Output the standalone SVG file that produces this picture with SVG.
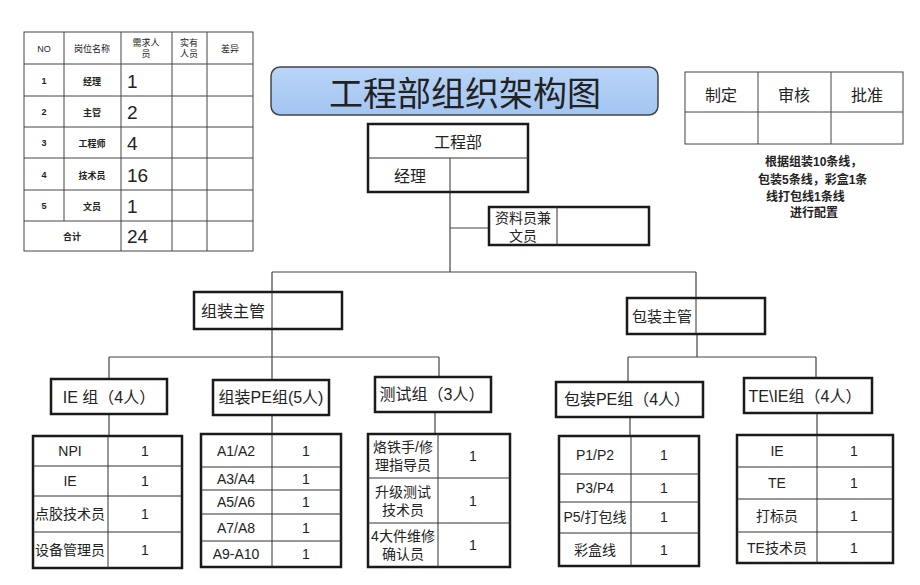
<svg xmlns="http://www.w3.org/2000/svg" width="920" height="585" viewBox="0 0 920 585">
<defs>
<style>
text{font-family:"Liberation Sans","Noto Sans CJK SC",sans-serif;fill:#222;}
.box{fill:#fff;stroke:#1a1a1a;stroke-width:2.5;}
.ln{fill:none;stroke:#333;stroke-width:1;}
.conn{fill:none;stroke:#444;stroke-width:1.2;}
.tl{fill:none;stroke:#444;stroke-width:1;}
.m{text-anchor:middle;}
.hd{font-size:9px;text-anchor:middle;}
.nm{font-size:9px;text-anchor:middle;font-weight:bold;}
.big{font-size:19px;}
.t14{font-size:14px;}
.t16{font-size:16px;}
.note{font-size:12px;font-weight:bold;}
</style>
<linearGradient id="tg" x1="0" y1="0" x2="0" y2="1">
<stop offset="0" stop-color="#b9d4f7"/>
<stop offset="1" stop-color="#a3c5f1"/>
</linearGradient>
</defs>
<rect width="920" height="585" fill="#fff"/>

<g id="summary-table">
<rect x="24" y="32" width="229" height="219" class="tl"/>
<path class="tl" d="M24 64H253M24 96H253M24 127H253M24 158H253M24 190H253M24 221H253M64 32V221M121 32V251M172 32V251M207 32V251"/>
<text x="44" y="52" class="hd">NO</text>
<text x="92" y="52" class="hd">岗位名称</text>
<text x="146" y="46" class="hd">需求人</text>
<text x="146" y="57" class="hd">员</text>
<text x="189" y="46" class="hd">实有</text>
<text x="189" y="57" class="hd">人员</text>
<text x="230" y="52" class="hd">差异</text>
<text x="44" y="84" class="nm">1</text>
<text x="92" y="85" class="nm">经理</text>
<text x="127" y="88" class="big">1</text>
<text x="44" y="115" class="nm">2</text>
<text x="92" y="116" class="nm">主管</text>
<text x="127" y="119" class="big">2</text>
<text x="44" y="146" class="nm">3</text>
<text x="92" y="147" class="nm">工程师</text>
<text x="127" y="150" class="big">4</text>
<text x="44" y="178" class="nm">4</text>
<text x="92" y="179" class="nm">技术员</text>
<text x="127" y="182" class="big">16</text>
<text x="44" y="209" class="nm">5</text>
<text x="92" y="210" class="nm">文员</text>
<text x="127" y="213" class="big">1</text>
<text x="72" y="240" class="nm">合计</text>
<text x="127" y="243" class="big">24</text>
</g>

<g id="title">
<rect x="271" y="67" width="387" height="48" rx="9" fill="url(#tg)" stroke="#444" stroke-width="1.5"/>
<text x="465" y="106" class="m" font-size="34">工程部组织架构图</text>
</g>

<g id="approval-table">
<rect x="685" y="72" width="218" height="72" class="tl"/>
<path class="tl" d="M685 112H903M758 72V144M831 72V144"/>
<text x="721" y="101" class="m t16" fill="#444">制定</text>
<text x="794" y="101" class="m t16" fill="#444">审核</text>
<text x="867" y="101" class="m t16" fill="#444">批准</text>
</g>

<g id="note">
<text x="765" y="166" class="note">根据组装10条线，</text>
<text x="758" y="184" class="note">包装5条线，彩盒1条</text>
<text x="766" y="201" class="note">线打包线1条线</text>
<text x="790" y="217" class="note">进行配置</text>
</g>

<g id="connectors">
<path class="conn" d="M450 192V272M450 228H489M272 272H696M272 272V292M272 329V357M109 357H439M109 357V379M272 357V380M439 357V377M109 414V436M272 415V434M435 412V434M696 272V298M697 334V357M628 357H816M628 357V382M816 357V378M630 417V436M817 413V435"/>
</g>

<g id="dept">
<rect x="368" y="124" width="160" height="68" class="box"/>
<path class="ln" d="M368 158H528M450 158V192"/>
<text x="458" y="148" class="m t16">工程部</text>
<text x="410" y="182" class="m t16">经理</text>
</g>

<g id="clerk">
<rect x="489" y="207" width="160" height="38" class="box"/>
<path class="ln" d="M557 207V245"/>
<text x="523" y="223" class="m t14">资料员兼</text>
<text x="523" y="241" class="m t14">文员</text>
</g>

<g id="assembly-sup">
<rect x="194" y="292" width="148" height="37" class="box"/>
<path class="ln" d="M272 292V329"/>
<text x="233" y="317" class="m t16">组装主管</text>
</g>

<g id="pack-sup">
<rect x="627" y="298" width="138" height="36" class="box"/>
<path class="ln" d="M696 298V334"/>
<text x="662" y="322" class="m" font-size="15">包装主管</text>
</g>

<g id="ie-group">
<rect x="51" y="379" width="116" height="35" class="box"/>
<text x="109" y="403" class="m t16">IE 组（4人）</text>
</g>
<g id="ie-table">
<rect x="33" y="436" width="149" height="132" class="box"/>
<path class="ln" d="M108 436V568M33 466H182M33 496H182M33 532H182"/>
<text x="70" y="456" class="m t14">NPI</text><text x="145" y="456" class="m t14">1</text>
<text x="70" y="486" class="m t14">IE</text><text x="145" y="486" class="m t14">1</text>
<text x="70" y="519" class="m t14">点胶技术员</text><text x="145" y="519" class="m t14">1</text>
<text x="70" y="555" class="m t14">设备管理员</text><text x="145" y="555" class="m t14">1</text>
</g>

<g id="asm-pe-group">
<rect x="213" y="380" width="116" height="35" class="box"/>
<text x="271" y="403" class="m t16">组装PE组(5人)</text>
</g>
<g id="asm-pe-table">
<rect x="201" y="434" width="140" height="133" class="box"/>
<path class="ln" d="M272 434V567M201 467H341M201 490H341M201 514H341M201 541H341"/>
<text x="236" y="456" class="m t14">A1/A2</text><text x="306" y="456" class="m t14">1</text>
<text x="236" y="484" class="m t14">A3/A4</text><text x="306" y="484" class="m t14">1</text>
<text x="236" y="507" class="m t14">A5/A6</text><text x="306" y="507" class="m t14">1</text>
<text x="236" y="533" class="m t14">A7/A8</text><text x="306" y="533" class="m t14">1</text>
<text x="236" y="559" class="m t14">A9-A10</text><text x="306" y="559" class="m t14">1</text>
</g>

<g id="test-group">
<rect x="375" y="377" width="116" height="35" class="box"/>
<text x="432" y="400" class="m t16">测试组（3人）</text>
</g>
<g id="test-table">
<rect x="368" y="434" width="142" height="133" class="box"/>
<path class="ln" d="M438 434V567M368 478H510M368 523H510"/>
<text x="403" y="452" class="m t14">烙铁手/修</text>
<text x="403" y="470" class="m t14">理指导员</text>
<text x="473" y="461" class="m t14">1</text>
<text x="403" y="497" class="m t14">升级测试</text>
<text x="403" y="515" class="m t14">技术员</text>
<text x="473" y="506" class="m t14">1</text>
<text x="403" y="541" class="m t14">4大件维修</text>
<text x="403" y="559" class="m t14">确认员</text>
<text x="473" y="550" class="m t14">1</text>
</g>

<g id="pack-pe-group">
<rect x="556" y="382" width="147" height="35" class="box"/>
<text x="627" y="405" class="m t16">包装PE组（4人）</text>
</g>
<g id="pack-pe-table">
<rect x="559" y="436" width="140" height="130" class="box"/>
<path class="ln" d="M631 436V566M559 474H699M559 502H699M559 533H699"/>
<text x="595" y="460" class="m t14">P1/P2</text><text x="664" y="460" class="m t14">1</text>
<text x="595" y="493" class="m t14">P3/P4</text><text x="664" y="493" class="m t14">1</text>
<text x="595" y="522" class="m t14">P5/打包线</text><text x="664" y="522" class="m t14">1</text>
<text x="595" y="555" class="m t14">彩盒线</text><text x="664" y="555" class="m t14">1</text>
</g>

<g id="teie-group">
<rect x="744" y="378" width="128" height="35" class="box"/>
<text x="805" y="402" class="m t16">TE\IE组（4人）</text>
</g>
<g id="teie-table">
<rect x="737" y="435" width="156" height="128" class="box"/>
<path class="ln" d="M817 435V563M737 467H893M737 499H893M737 532H893"/>
<text x="777" y="456" class="m t14">IE</text><text x="854" y="456" class="m t14">1</text>
<text x="777" y="488" class="m t14">TE</text><text x="854" y="488" class="m t14">1</text>
<text x="777" y="521" class="m t14">打标员</text><text x="854" y="521" class="m t14">1</text>
<text x="777" y="553" class="m t14">TE技术员</text><text x="854" y="553" class="m t14">1</text>
</g>
</svg>
